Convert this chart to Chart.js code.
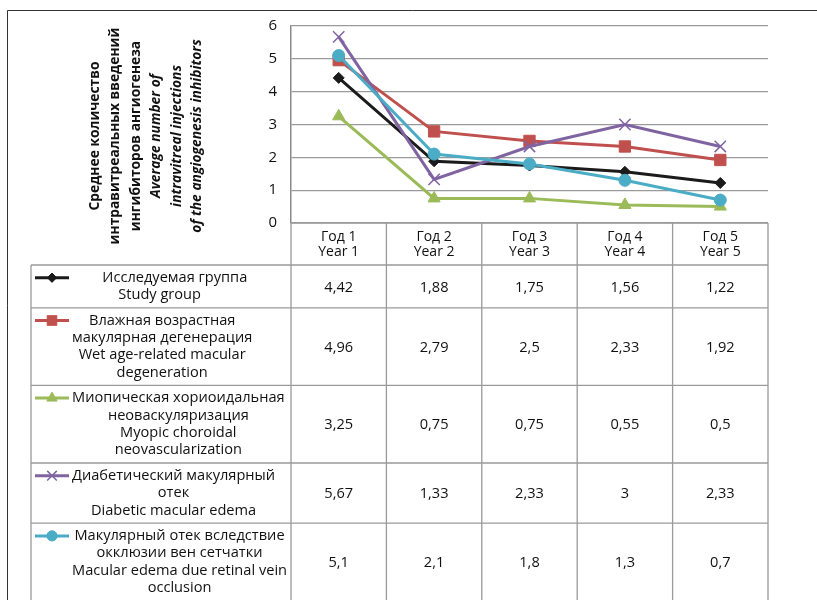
<!DOCTYPE html>
<html>
<head>
<meta charset="utf-8">
<script src="https://cdn.jsdelivr.net/npm/chart.js@4/dist/chart.umd.min.js"></script>
<style>
    html, body {
        margin: 0;
        padding: 0;
        background: #fff;
    }
    #wrap {
        position: relative;
        width: 817px;
        height: 600px;
    }
</style>
</head>
<body>
<div id="wrap"><canvas id="chart" width="817" height="600"></canvas></div>
<script>
const years = [
    ['Год 1', 'Year 1'],
    ['Год 2', 'Year 2'],
    ['Год 3', 'Year 3'],
    ['Год 4', 'Year 4'],
    ['Год 5', 'Year 5'],
]

const studyGroup = [4.42, 1.88, 1.75, 1.56, 1.22]
const wetAmd = [4.96, 2.79, 2.5, 2.33, 1.92]
const myopicCnv = [3.25, 0.75, 0.75, 0.55, 0.5]
const diabeticEdema = [5.67, 1.33, 2.33, 3, 2.33]
const veinOcclusion = [5.1, 2.1, 1.8, 1.3, 0.7]

const seriesNames = [
    ['        Исследуемая группа', 'Study group'],
    ['Влажная возрастная', 'макулярная дегенерация', 'Wet age-related macular', 'degeneration'],
    ['Миопическая хориоидальная', 'неоваскуляризация', 'Myopic choroidal', 'neovascularization'],
    ['Диабетический макулярный', 'отек', 'Diabetic macular edema'],
    ['Макулярный отек вследствие', 'окклюзии вен сетчатки', 'Macular edema due retinal vein', 'occlusion'],
]

const yTitleRu = ['Среднее количество', 'интравитреальных введений', 'ингибиторов ангиогенеза']
const yTitleEn = ['Average number of', 'intravitreal injections', 'of the angiogenesis inhibitors']

!(() => {
    const FONT = '"Open Sans", "Noto Sans", sans-serif'
    const gridGray = '#9a9a9a'

    const styles = [
        { color: '#1b1b1b', pointStyle: 'rectRot', radius: 5.5, borderWidth: 1 },
        { color: '#c0504d', pointStyle: 'rect', radius: 8, borderWidth: 1 },
        { color: '#9bbb59', pointStyle: 'triangle', radius: 7, borderWidth: 1 },
        { color: '#8064a2', pointStyle: 'crossRot', radius: 8, borderWidth: 1.5 },
        { color: '#4bacc6', pointStyle: 'circle', radius: 6, borderWidth: 1 },
    ]
    const values = [studyGroup, wetAmd, myopicCnv, diabeticEdema, veinOcclusion]

    const datasets = values.map((data, i) => ({
        label: seriesNames[i].join(' ').trim(),
        data: data,
        borderColor: styles[i].color,
        backgroundColor: styles[i].color,
        borderWidth: 3,
        pointStyle: styles[i].pointStyle,
        pointRadius: styles[i].radius,
        pointBorderWidth: styles[i].borderWidth,
        pointBorderColor: styles[i].color,
        pointBackgroundColor: styles[i].color,
        tension: 0,
        // later series sit on top, like the spreadsheet draws them
        order: values.length - i,
    }))

    const fmt = v => String(v).replace('.', ',')

    // outer frame, rotated axis title and the data table under the plot
    const tablePlugin = {
        id: 'dataTable',
        afterDraw(chart) {
            const ctx = chart.ctx
            const area = chart.chartArea
            const xs = chart.scales.x
            const colW = (area.right - area.left) / years.length
            const tableLeft = 31
            const lh = 17.4
            const headerBottom = 265

            ctx.save()

            // frame
            ctx.strokeStyle = '#333'
            ctx.lineWidth = 1
            ctx.beginPath()
            ctx.moveTo(7.5, 600)
            ctx.lineTo(7.5, 10.5)
            ctx.lineTo(817, 10.5)
            ctx.stroke()

            // axis title, read bottom to top
            ctx.translate(146, 136)
            ctx.rotate(-Math.PI / 2)
            ctx.fillStyle = '#111'
            ctx.textAlign = 'center'
            ctx.textBaseline = 'middle'
            const titleLines = yTitleRu.map(t => [t, 'bold'])
                .concat(yTitleEn.map(t => [t, 'italic bold']))
            titleLines.forEach(([t, w], i) => {
                ctx.font = `${w} 13.8px ${FONT}`
                ctx.fillText(t, 0, (i - 2.5) * 20.5)
            })
            ctx.setTransform(1, 0, 0, 1, 0, 0)

            // row geometry
            const rows = []
            let y = headerBottom
            seriesNames.forEach(lines => {
                const h = lines.length * lh + 8
                rows.push({ top: y, bottom: y + h })
                y += h
            })
            const tableBottom = y

            ctx.strokeStyle = gridGray
            ctx.lineWidth = 1.3
            ctx.beginPath()
            // header cells
            ctx.moveTo(area.left, area.bottom)
            ctx.lineTo(area.right, area.bottom)
            // horizontal rules
            rows.forEach(r => {
                ctx.moveTo(tableLeft, r.top)
                ctx.lineTo(area.right, r.top)
            })
            ctx.moveTo(tableLeft, tableBottom)
            ctx.lineTo(area.right, tableBottom)
            // vertical rules
            ctx.moveTo(tableLeft, headerBottom)
            ctx.lineTo(tableLeft, tableBottom)
            for (let i = 0; i <= years.length; i++) {
                const x = area.left + i * colW
                ctx.moveTo(x, area.bottom)
                ctx.lineTo(x, tableBottom)
            }
            ctx.stroke()

            ctx.font = `14.6px ${FONT}`
            ctx.fillStyle = '#111'
            ctx.textBaseline = 'middle'

            rows.forEach((r, i) => {
                const lines = seriesNames[i]
                const mid = (r.top + r.bottom) / 2
                const firstY = mid - (lines.length - 1) * lh / 2
                const st = styles[i]

                // legend key: short line with the marker
                ctx.strokeStyle = st.color
                ctx.lineWidth = 3
                ctx.beginPath()
                ctx.moveTo(35, firstY)
                ctx.lineTo(69, firstY)
                ctx.stroke()
                ctx.fillStyle = st.color
                ctx.lineWidth = st.borderWidth
                Chart.helpers.drawPoint(ctx, {
                    pointStyle: st.pointStyle,
                    radius: st.radius * 0.85,
                    rotation: 0,
                    borderWidth: st.borderWidth,
                }, 52, firstY)

                // series name, centred as one block right of the key
                ctx.fillStyle = '#111'
                ctx.textAlign = 'center'
                const blockW = Math.max(...lines.map(t => ctx.measureText(t).width))
                const cx = 72 + blockW / 2
                lines.forEach((t, k) => ctx.fillText(t, cx, firstY + k * lh))

                // values
                values[i].forEach((v, k) => {
                    ctx.fillText(fmt(v), xs.getPixelForValue(k), mid + 1)
                })
            })

            ctx.restore()
        },
    }

    new Chart(document.getElementById('chart'), {
        type: 'line',
        data: {
            labels: years,
            datasets: datasets,
        },
        options: {
            responsive: false,
            animation: false,
            layout: {
                padding: { top: 26, left: 0, right: 49, bottom: 0 },
            },
            plugins: {
                legend: { display: false },
                tooltip: { enabled: false },
            },
            scales: {
                x: {
                    offset: true,
                    afterFit: s => { s.height = 377 },
                    grid: { display: false, drawTicks: false },
                    border: { display: false },
                    ticks: {
                        color: '#111',
                        padding: 6,
                        maxRotation: 0,
                        autoSkip: false,
                        font: { family: FONT, size: 14, lineHeight: 1.1 },
                    },
                },
                y: {
                    min: 0,
                    max: 6,
                    afterFit: s => { s.width = 291 },
                    grid: { color: gridGray, lineWidth: 1.3, drawTicks: false },
                    border: { display: true, color: '#8a8a8a', width: 1.5 },
                    ticks: {
                        stepSize: 1,
                        color: '#111',
                        padding: 14,
                        font: { family: FONT, size: 15 },
                    },
                },
            },
        },
        plugins: [tablePlugin],
    })
})()
</script>
</body>
</html>
